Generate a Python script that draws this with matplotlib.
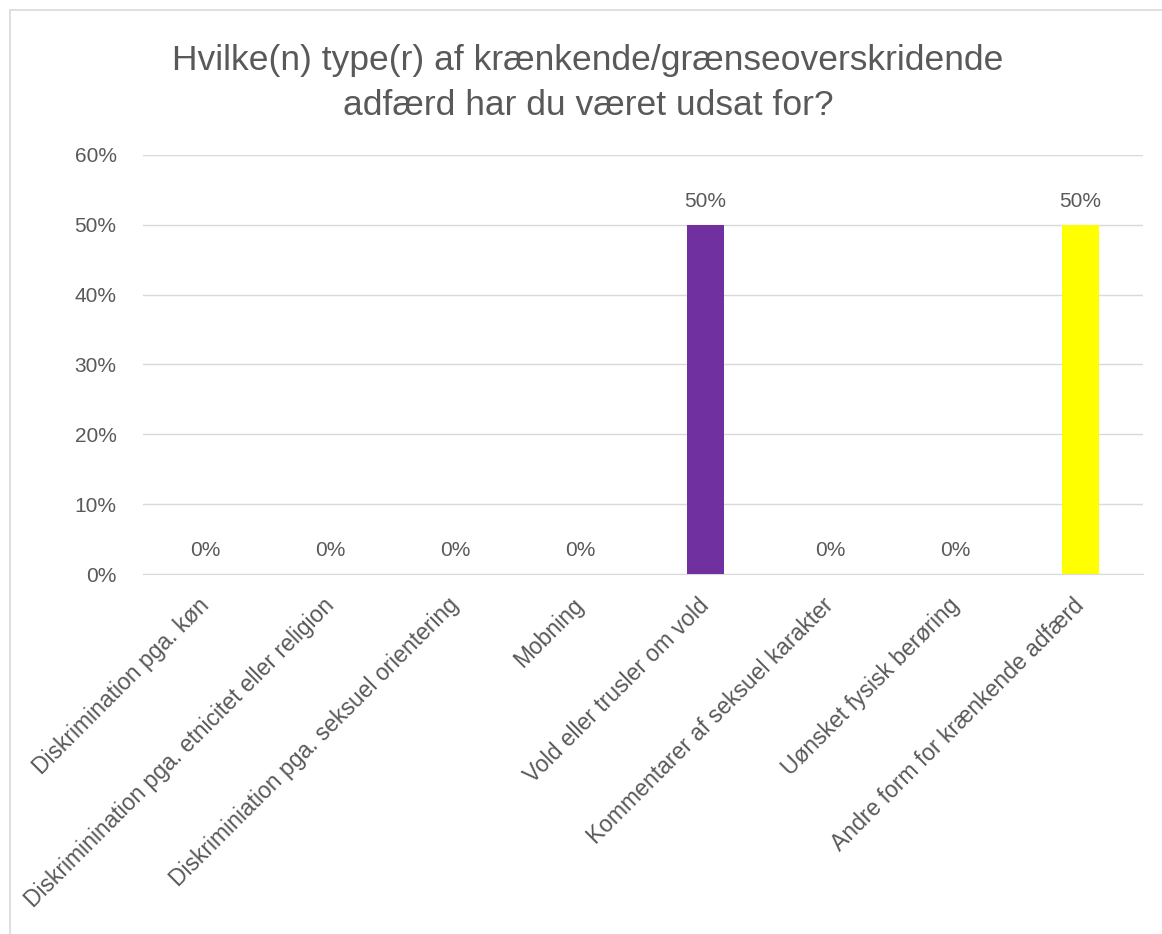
import matplotlib
matplotlib.use('agg')
import matplotlib.pyplot as plt
import matplotlib.ticker as tkr
from matplotlib.patches import Rectangle

plt.rcParams['font.family'] = ['Liberation Sans', 'DejaVu Sans']

categories = [
    'Diskrimination pga. køn',
    'Diskriminination pga. etnicitet eller religion',
    'Diskriminiation pga. seksuel orientering',
    'Mobning',
    'Vold eller trusler om vold',
    'Kommentarer af seksuel karakter',
    'Uønsket fysisk berøring',
    'Andre form for krænkende adfærd',
]
values = [0, 0, 0, 0, 0.5, 0, 0, 0.5]
colors = ['#4472C4', '#ED7D31', '#A5A5A5', '#FFC000', '#7030A0', '#70AD47', '#264478', '#FFFF00']
yticks = [0, 0.1, 0.2, 0.3, 0.4, 0.5, 0.6]

grey = '#595959'
fig = plt.figure(figsize=(11.62, 9.34), dpi=100)
fig.patches.append(Rectangle((10 / 1162, -0.1), 1.2, 1 - 10 / 934 + 0.1,
                             transform=fig.transFigure, fill=False,
                             edgecolor='#d9d9d9', linewidth=1.2))

ax = fig.add_axes([143 / 1162, 1 - 574 / 934, 1000 / 1162, 419 / 934])
x = range(len(categories))
bars = ax.bar(x, values, width=0.3, color=colors, zorder=3)
for xi, v in zip(x, values):
    ax.text(xi, v + 0.034, '{:.0%}'.format(v), ha='center', va='center',
            fontsize=15, color=grey)

ax.set_xlim(-0.5, len(categories) - 0.5)
ax.set_ylim(0, 0.6)
ax.set_yticks(yticks)
ax.yaxis.set_major_formatter(tkr.PercentFormatter(1.0, decimals=0))
ax.grid(axis='y', color='#d9d9d9', linewidth=1, zorder=0)
for s in ['top', 'right', 'left']:
    ax.spines[s].set_visible(False)
ax.spines['bottom'].set_color('#d9d9d9')
ax.tick_params(axis='both', length=0, labelcolor=grey)
ax.tick_params(axis='y', pad=19, labelsize=15)
ax.set_xticks(list(x))
ax.set_xticklabels(categories, rotation=45, ha='right', rotation_mode='anchor',
                   va='center', fontsize=16.5)
ax.tick_params(axis='x', pad=20)

fig.text(588 / 1162, 1 - 83 / 934,
         'Hvilke(n) type(r) af krænkende/grænseoverskridende\nadfærd har du været udsat for?',
         ha='center', va='center', fontsize=25.5, color=grey, linespacing=1.45)

plt.savefig('out.png', dpi=100)
plt.close()
